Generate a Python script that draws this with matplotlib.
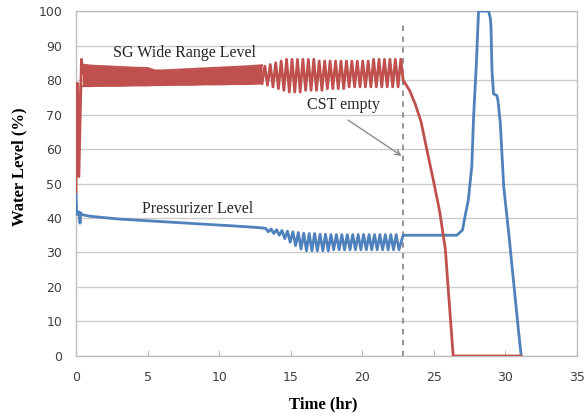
import matplotlib
matplotlib.use('Agg')
import matplotlib.pyplot as plt

# ---- data ----
# SG wide range level: start-up transient
sg_start_t = [0.0, 0.04, 0.12, 0.2, 0.38, 0.45]
sg_start_v = [47.5, 79, 79, 52, 86, 82]

# dense fast oscillation drawn as its envelope (0.45 - 13 hr)
sg_band_t = [0.45, 1, 2, 3, 4, 5, 5.5, 6, 7, 8, 9, 10, 11, 12, 13.0]
sg_band_hi = [84.5, 84.2, 84.0, 83.8, 83.6, 83.5, 82.8, 82.8, 83.0, 83.2, 83.4, 83.6, 83.8, 84.0, 84.3]
sg_band_lo = [78.2, 78.2, 78.3, 78.3, 78.4, 78.4, 78.5, 78.5, 78.6, 78.6, 78.7, 78.7, 78.8, 78.8, 79.0]

# slow oscillation peaks/troughs (13 - 22.8 hr)
sg_osc_t = [13.00, 13.19, 13.38, 13.57, 13.76, 13.95, 14.14, 14.33, 14.52, 14.71,
            14.90, 15.09, 15.28, 15.47, 15.66, 15.85, 16.04, 16.23, 16.42, 16.61,
            16.80, 16.99, 17.18, 17.37, 17.56, 17.75, 17.94, 18.13, 18.32, 18.51,
            18.70, 18.89, 19.08, 19.27, 19.46, 19.65, 19.84, 20.03, 20.22, 20.41,
            20.60, 20.79, 20.98, 21.17, 21.36, 21.55, 21.74, 21.93, 22.12, 22.31,
            22.50, 22.69]
sg_osc_v = [79, 84, 78.5, 84.5, 78, 85, 77.5, 85.5, 77, 86,
            76.5, 86, 76.5, 86, 76.5, 86, 77, 86, 77, 86,
            77, 85.5, 77, 85.5, 77.5, 85.5, 77.5, 85.5, 77.5, 85.5,
            77.5, 85.5, 78, 85.5, 78, 85.5, 78, 85.5, 78, 85.5,
            78, 86, 78, 86, 78, 86, 78, 86, 78, 86,
            78, 86]

# after the CST runs empty
sg_end_t = [22.85, 23.3, 23.7, 24.1, 24.5, 24.96, 25.4, 25.8, 26.1, 26.35, 31.1]
sg_end_v = [80, 77, 73, 68, 60, 51, 42, 31, 14, 0, 0]

# pressurizer level
pz_start_t = [0.0, 0.05, 0.2, 0.28, 0.33, 0.4, 0.6, 1, 2, 3, 5, 7, 9, 11, 12.5, 13.05]
pz_start_v = [47.5, 41, 41.8, 38.5, 41.5, 41, 40.8, 40.5, 40.1, 39.7, 39.2, 38.7, 38.2, 37.7, 37.3, 37.1]

pz_osc_t = [13.25, 13.44, 13.63, 13.82, 14.01, 14.20, 14.39, 14.58, 14.77, 14.96,
            15.15, 15.34, 15.53, 15.72, 15.91, 16.10, 16.29, 16.48, 16.67, 16.86,
            17.05, 17.24, 17.43, 17.62, 17.81, 18.00, 18.19, 18.38, 18.57, 18.76,
            18.95, 19.14, 19.33, 19.52, 19.71, 19.90, 20.09, 20.28, 20.47, 20.66,
            20.85, 21.04, 21.23, 21.42, 21.61, 21.80, 21.99, 22.18, 22.37, 22.56]
pz_osc_v = [37, 36, 36.8, 35.5, 36.6, 35, 36.4, 34, 36.2, 33,
            36, 32, 35.8, 31, 35.6, 30.5, 35.5, 30.5, 35.5, 30.5,
            35.3, 30.5, 35.3, 30.5, 35.2, 30.8, 35.2, 30.8, 35.2, 30.8,
            35.2, 30.8, 35.2, 30.8, 35.2, 30.8, 35.2, 30.8, 35.2, 30.8,
            35.2, 30.8, 35.2, 30.8, 35.2, 30.8, 35.2, 30.8, 35.2, 30.8]

pz_end_t = [22.85, 24.0, 26.6, 27.0, 27.2, 27.4, 27.65, 27.77, 27.96, 28.12, 28.82,
            28.94, 28.99, 29.06, 29.17, 29.4, 29.48, 29.64, 29.88, 30.23, 30.58, 30.93, 31.1]
pz_end_v = [35, 35, 35, 36.5, 41, 45, 55, 69, 84, 100, 100,
            98, 95.5, 82.5, 76, 75.5, 74, 67.5, 49, 35.6, 21, 6.6, 0]

cst_empty_time = 22.85
x_ticks = [0, 5, 10, 15, 20, 25, 30, 35]
y_ticks = [0, 10, 20, 30, 40, 50, 60, 70, 80, 90, 100]

red = '#C0504D'
blue = '#4F81BD'
grey = '#BFBFBF'

fig = plt.figure(figsize=(5.87, 4.17), dpi=100)
ax = fig.add_axes([0.1295, 0.1463, 0.8535, 0.8273])

# pressurizer first, SG drawn on top
pz_t = pz_start_t + pz_osc_t + pz_end_t
pz_v = pz_start_v + pz_osc_v + pz_end_v
ax.plot(pz_t, pz_v, color=blue, lw=2.0, solid_joinstyle='round', zorder=3)

ax.fill_between(sg_band_t, sg_band_lo, sg_band_hi, color=red, lw=0, zorder=4)
ax.plot(sg_band_t, sg_band_hi, color=red, lw=1.3, zorder=4)
ax.plot(sg_band_t, sg_band_lo, color=red, lw=1.3, zorder=4)
sg_t = sg_osc_t + sg_end_t
sg_v = sg_osc_v + sg_end_v
ax.plot(sg_start_t, sg_start_v, color=red, lw=2.0, zorder=4)
ax.plot(sg_t, sg_v, color=red, lw=2.0, solid_joinstyle='round', zorder=4)

ax.vlines(cst_empty_time, 0, 96, colors='#8C8C8C', linestyles=(0, (3, 3)), lw=1.3, zorder=2)

ax.set_xlim(0, 35)
ax.set_ylim(0, 100)
ax.set_xticks(x_ticks)
ax.set_yticks(y_ticks)
ax.yaxis.grid(True, color='#CCCCCC', lw=1.0)
ax.set_axisbelow(True)
for s in ax.spines.values():
    s.set_color(grey)
    s.set_linewidth(1.0)
ax.tick_params(axis='x', direction='in', length=4, color=grey, pad=11,
               labelsize=9, labelcolor='#404040')
ax.tick_params(axis='y', length=0, pad=10, labelsize=9, labelcolor='#404040')

serif = 'Liberation Serif'
ax.set_xlabel('Time (hr)', family=serif, fontweight='bold', fontsize=12)
ax.set_ylabel('Water Level (%)', family=serif, fontweight='bold', fontsize=12)
ax.xaxis.set_label_coords(0.494, -0.118)
ax.yaxis.set_label_coords(-0.098, 0.548)

ax.text(7.6, 87.8, 'SG Wide Range Level', family=serif, fontsize=11.5,
        ha='center', va='center', color='#262626', zorder=5)
ax.text(8.5, 42.6, 'Pressurizer Level', family=serif, fontsize=11.5,
        ha='center', va='center', color='#262626', zorder=5)
ax.text(18.65, 72.8, 'CST empty', family=serif, fontsize=11.5,
        ha='center', va='center', color='#262626', zorder=5)
ax.annotate('', xy=(22.75, 58), xytext=(19.0, 68.4),
            arrowprops=dict(arrowstyle='->', color='#8C8C8C', lw=1.0,
                            mutation_scale=10, shrinkA=0, shrinkB=0), zorder=5)

fig.savefig('out.png', dpi=100)
